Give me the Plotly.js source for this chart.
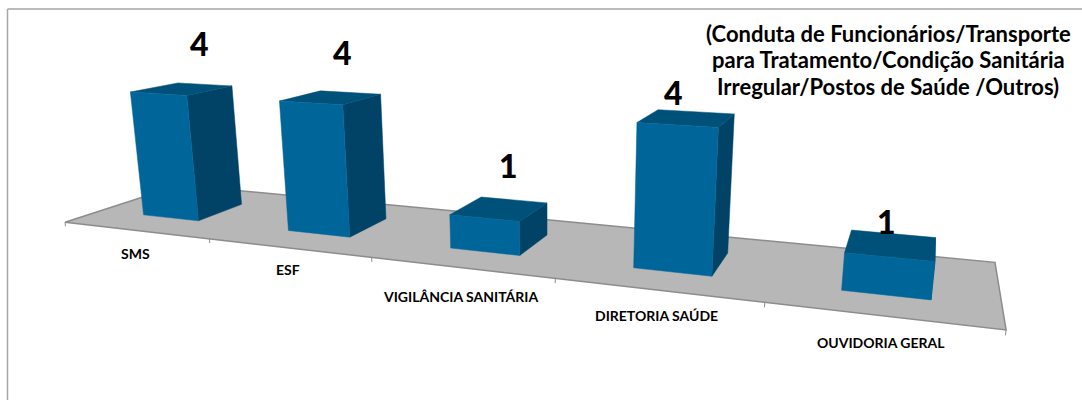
<!DOCTYPE html>
<html>
<head>
<meta charset="utf-8">
<script src="https://cdn.plot.ly/plotly-3.0.1.min.js"></script>
<style>html,body{margin:0;padding:0;background:#fff}#chart{width:1082px;height:400px}</style>
</head>
<body>
<div id="chart"></div>
<script>
// --- data ---
const categories = ["SMS", "ESF", "VIGILÂNCIA SANITÁRIA", "DIRETORIA SAÚDE", "OUVIDORIA GERAL"];
const values = [4, 4, 1, 4, 1];
const titleLines = ["(Conduta de Funcionários/Transporte", "para Tratamento/Condição Sanitária", "Irregular/Postos de Saúde /Outros)"];

// --- style and placement ---
const frontColor = "#006699", sideColor = "#004366", topColor = "#005179";
const floorColor = "#b7b7b7", edgeColor = "#8c8c8c", frameColor = "#a6a6a6", textColor = "#000000";
const fontFamily = "Lato, 'Open Sans', sans-serif";
const catLabelDy = [23, 22, 29, 26, 27];
const valueLabelDx = [18, 12, 10, -12, -3];
const valueLabelDy = [-45, -45, -43, -25, -23];
const titleLineY = [33, 59.5, 86];

// --- oblique camera: category position, depth, value -> page pixels ---
const cam = {a:664.4,b:142.1,c:65,d:16.95,e:-9.47,f:222.3,g:-0.275,h:0.1509,l:-0.00807,vx:550,vy:4000};
function project(cat, depth, val) {
  const u = cat / categories.length, w = cam.g*u + cam.h*depth + 1 + cam.l*val;
  return [(cam.a*u + cam.b*depth + cam.c + cam.l*val*cam.vx)/w,
          (cam.d*u + cam.e*depth + cam.f + cam.l*val*cam.vy)/w];
}
function poly(pts, fill, line, width) {
  const xy = pts.map(p => project(p[0], p[1], p[2]));
  xy.push(xy[0]);
  return {x: xy.map(p => p[0]), y: xy.map(p => p[1]), mode: "lines", fill: "toself", fillcolor: fill,
          line: {color: line, width: width}, hoverinfo: "skip", showlegend: false};
}
const traces = [];
const n = categories.length;
traces.push(poly([[0,0,0],[n,0,0],[n,1,0],[0,1,0]], floorColor, edgeColor, 1.5));
for (let i = 0; i <= n; i++) {
  const a = project(i,0,0), b = project(i,0,-0.13);
  traces.push({x:[a[0],b[0]], y:[a[1],b[1]], mode:"lines", line:{color:edgeColor,width:1}, hoverinfo:"skip", showlegend:false});
}
const L = 0.31, R = 0.702, F = 0.29, B = 0.7;
values.forEach((v, i) => {
  const x0 = i + L, x1 = i + R;
  traces.push(poly([[x1,F,0],[x1,B,0],[x1,B,v],[x1,F,v]], sideColor, sideColor, 0.5));
  traces.push(poly([[x0,F,v],[x1,F,v],[x1,B,v],[x0,B,v]], topColor, topColor, 0.5));
  traces.push(poly([[x0,F,0],[x1,F,0],[x1,F,v],[x0,F,v]], frontColor, frontColor, 0.5));
});

const annotations = [];
categories.forEach((c, i) => {
  const p = project(i + 0.5, 0, 0);
  annotations.push({x:p[0], y:p[1] + catLabelDy[i], xref:"x", yref:"y", text:c, showarrow:false,
    font:{family:fontFamily, size:14, color:textColor, weight:700}, xanchor:"center", yanchor:"middle"});
});
values.forEach((v, i) => {
  const p = project(i + 0.5, 0.5, v);
  annotations.push({x:p[0] + valueLabelDx[i], y:p[1] + valueLabelDy[i], xref:"x", yref:"y", text:String(v), showarrow:false,
    font:{family:fontFamily, size:32, color:textColor, weight:900}, xanchor:"center", yanchor:"middle"});
});
titleLines.forEach((t, i) => {
  annotations.push({x:888, y:titleLineY[i], xref:"x", yref:"y", text:t, showarrow:false, align:"center",
    font:{family:fontFamily, size:22, color:textColor, weight:700}, xanchor:"center", yanchor:"middle"});
});

const hidden = {visible:false, fixedrange:true};
Plotly.newPlot("chart", traces, {
  width:1082, height:400, margin:{l:0,r:0,t:0,b:0}, paper_bgcolor:"#ffffff", plot_bgcolor:"#ffffff", showlegend:false,
  xaxis:Object.assign({range:[0,1082]}, hidden),
  yaxis:Object.assign({range:[400,0]}, hidden),
  annotations:annotations,
  shapes:[
    {type:"line", xref:"x", yref:"y", x0:7.5, x1:7.5, y0:9, y1:400, line:{color:frameColor,width:1.5}},
    {type:"line", xref:"x", yref:"y", x0:7.5, x1:1082, y0:9, y1:9, line:{color:frameColor,width:1.5}}
  ]
}, {displayModeBar:false, staticPlot:true});
</script>
</body>
</html>
